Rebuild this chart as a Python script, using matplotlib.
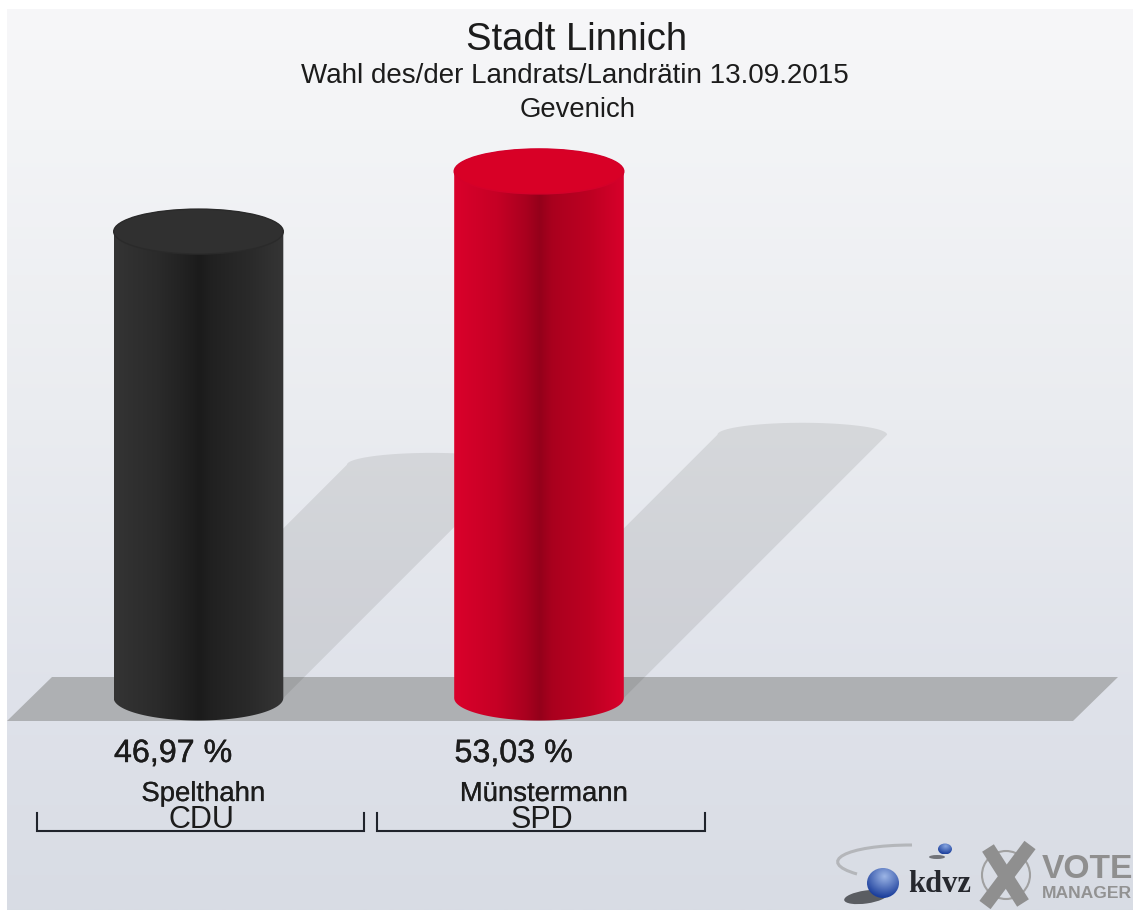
import numpy as np
import matplotlib
matplotlib.use('Agg')
from matplotlib import pyplot as plt
from matplotlib import patheffects as pe
from matplotlib.colors import LinearSegmentedColormap, to_rgb
from matplotlib.patches import Polygon, Ellipse, Circle, PathPatch
from matplotlib.path import Path

plt.rcParams['font.family'] = ['Liberation Sans', 'DejaVu Sans']

W, H = 1133, 910

# data
candidates = ['Spelthahn', 'Münstermann']
parties = ['CDU', 'SPD']
shares = [46.97, 53.03]
share_labels = ['46,97 %', '53,03 %']
title = 'Stadt Linnich'
subtitle = 'Wahl des/der Landrats/Landrätin 13.09.2015'
district = 'Gevenich'

# chart scale in pixels
PX_PER_PCT = 9.93
PX_PER_BAR = 340.5
BASE_Y = 698
FIRST_X = 198.5
HALF_W = 84.8 / PX_PER_BAR
CAP_B = 22.5 / PX_PER_PCT

bar_cmaps = [
    LinearSegmentedColormap.from_list('black', [(0, '#343434'), (.25, '#2b2b2b'), (.42, '#212121'), (.505, '#1b1b1b'), (.58, '#212121'), (.8, '#2a2a2a'), (1, '#353535')]),
    LinearSegmentedColormap.from_list('red', [(0, '#da002b'), (.25, '#c60025'), (.42, '#aa001f'), (.505, '#94001a'), (.58, '#aa001e'), (.8, '#bd0022'), (1, '#d8002b')]),
]
cap_colors = ['#303030', '#d80026']
cap_rims = ['#2a2a2a', '#d4002a']


def txt(x, y, s, size, heavy=0, **kw):
    kw.setdefault('ha', 'center')
    kw.setdefault('color', '#1c1c1c')
    t = fig.text(x / W, 1 - y / H, s, fontsize=size, va='baseline', **kw)
    if heavy:
        t.set_path_effects([pe.withStroke(linewidth=heavy, foreground=kw['color'])])


def cylinder(x, val, cmap, cap, rim):
    t = np.linspace(0, np.pi, 80)
    bottom = np.column_stack([x - HALF_W * np.cos(t), -CAP_B * np.sin(t)])
    top = np.column_stack([x + HALF_W * np.cos(t), val + CAP_B * np.sin(t)])
    body = Polygon(np.vstack([bottom, top]), closed=True, facecolor='none', edgecolor='none')
    ax.add_patch(body)
    grad = np.linspace(0, 1, 256).reshape(1, -1)
    im = ax.imshow(grad, cmap=cmap, aspect='auto', zorder=3,
                   extent=(x - HALF_W, x + HALF_W, -CAP_B, val + CAP_B))
    im.set_clip_path(body)
    ax.add_patch(Ellipse((x, val), 2 * HALF_W, 2 * CAP_B, facecolor=cap, edgecolor=rim, lw=1, zorder=4))


def shadow(x, val):
    # sheared copy of the bar, half as high
    shift = 0.5 * val * PX_PER_PCT / PX_PER_BAR
    t = np.linspace(np.pi, 0, 60)
    arc = np.column_stack([x + shift + HALF_W * np.cos(t), 0.5 * val + 1.2 * np.sin(t)])
    pts = np.vstack([[x - HALF_W, 0], arc, [x + HALF_W, 0]])
    ax.add_patch(Polygon(pts, closed=True, facecolor='#30302c', edgecolor='none', alpha=0.105, zorder=2))


def sphere(cx, cy, rx, ry, light, dark):
    xx, yy = np.meshgrid(np.linspace(-1, 1, 80), np.linspace(-1, 1, 80))
    d = np.clip(np.hypot(xx - 0.1, yy + 0.45) / 1.4, 0, 1)[..., None]
    img = np.array(to_rgb(light)) * (1 - d) + np.array(to_rgb(dark)) * d
    clip = Ellipse((cx, cy), 2 * rx, 2 * ry, facecolor='none', edgecolor='none')
    bg.add_patch(clip)
    im = bg.imshow(img, aspect='auto', extent=(cx - rx, cx + rx, cy + ry, cy - ry), zorder=5)
    im.set_clip_path(clip)


fig = plt.figure(figsize=(W / 100, H / 100), dpi=100, facecolor='white')

# background layer, in pixels
bg = fig.add_axes([0, 0, 1, 1], zorder=0)
ys = np.arange(9, H + 1)
stops_y = [9, 130, 420, 700, 910]
stops_c = np.array([to_rgb(c) for c in ['#f7f7f9', '#f3f4f6', '#eaecf0', '#dfe2ea', '#d8dce4']])
back = np.column_stack([np.interp(ys, stops_y, stops_c[:, i]) for i in range(3)])[:, None, :]
bg.imshow(back, aspect='auto', extent=(7, W, H, 9), zorder=0)
bg.add_patch(Polygon([(52, 677), (1118, 677), (1073, 721), (7, 721)], closed=True,
                     facecolor='#aeb0b3', edgecolor='none', zorder=1))

# brackets under the candidates
for left, right in [(37, 364), (377, 705)]:
    bg.plot([left, left, right, right], [813, 830.5, 830.5, 813], color='#20242c', lw=1.5,
            solid_joinstyle='miter', zorder=2)

# logo
swoosh = Path([(912, 845), (845, 845), (815, 862), (857, 874)], [Path.MOVETO, Path.CURVE4, Path.CURVE4, Path.CURVE4])
bg.add_patch(PathPatch(swoosh, facecolor='none', edgecolor='#b4b6ba', lw=2.2, zorder=3))
bg.add_patch(Ellipse((866, 897), 44, 13, angle=-8, facecolor='#3b3d42', edgecolor='none', alpha=0.8, zorder=4))
bg.add_patch(Ellipse((937, 857), 16, 4, facecolor='#45474c', edgecolor='none', alpha=0.7, zorder=4))
sphere(883, 883, 16, 15, '#9db6e6', '#1c3f9c')
sphere(945, 849, 7, 5.5, '#88a6e0', '#1f439f')
bg.add_patch(Circle((1006, 875), 24, facecolor='none', edgecolor='#a0a0a0', lw=1.5, zorder=3))
bg.plot([988, 1023], [848, 903], color='#8f8f8f', lw=10, solid_capstyle='butt', zorder=4)
bg.plot([1030, 985], [845, 905], color='#8f8f8f', lw=10, solid_capstyle='butt', zorder=4)

bg.set_xlim(0, W)
bg.set_ylim(H, 0)
bg.axis('off')

# chart layer: x in bar index, y in percent
ax = fig.add_axes([0, 0, 1, 1], zorder=1)
ax.patch.set_alpha(0)
positions = np.arange(len(shares))
for x, val in zip(positions, shares):
    shadow(x, val)
for x, val, cmap, cap, rim in zip(positions, shares, bar_cmaps, cap_colors, cap_rims):
    cylinder(x, val, cmap, cap, rim)
ax.set_xlim(-FIRST_X / PX_PER_BAR, (W - FIRST_X) / PX_PER_BAR)
ax.set_ylim(-(H - BASE_Y) / PX_PER_PCT, BASE_Y / PX_PER_PCT)
ax.axis('off')

# texts
txt(577, 50, title, 27.5)
txt(575, 83, subtitle, 20)
txt(578, 117, district, 19.8)
for x, s, name, party in zip(positions, share_labels, candidates, parties):
    px = FIRST_X + x * PX_PER_BAR
    txt(px - 84.5, 762, s, 23.2, heavy=0.3, ha='left')
    txt(px + 4.7, 801, name, 19.8, heavy=0.15)
    txt(px + 2.8, 828, party, 22)

txt(908, 892, 'kdvz', 22, ha='left', family=['Liberation Serif', 'DejaVu Serif'], weight='bold', color='#26282e')
txt(1042, 878, 'VOTE', 24.2, ha='left', weight='bold', color='#8f8f8f')
txt(1042, 898, 'MANAGER', 12.6, ha='left', weight='bold', color='#929292')

fig.savefig('out.png', dpi=100, facecolor='white')
